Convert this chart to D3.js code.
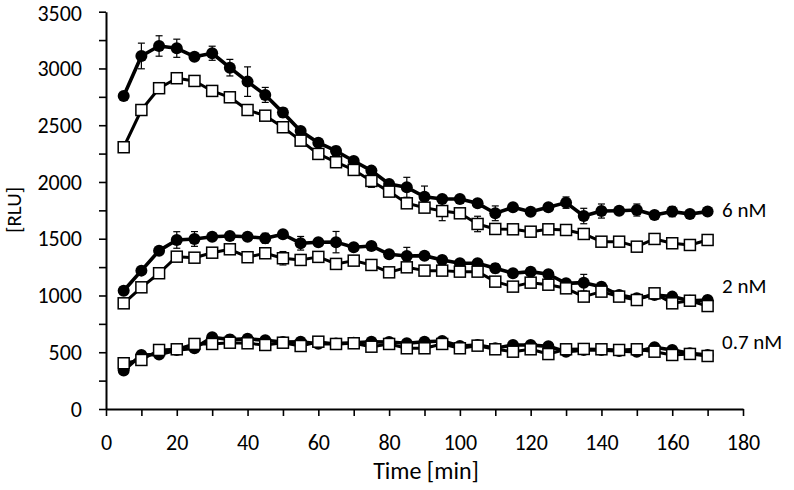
<!DOCTYPE html>
<html>
<head>
<meta charset="utf-8">
<script src="https://cdn.jsdelivr.net/npm/d3@7"></script>
<style>
  html, body { margin: 0; padding: 0; background: #fff; }
  text { font-family: Carlito, Lato, "Open Sans", sans-serif; fill: #000; }
</style>
</head>
<body>
<svg id="chart" width="794" height="490"></svg>
<script>
// ---------------- data ----------------
const times = [5,10,15,20,25,30,35,40,45,50,55,60,65,70,75,80,85,90,95,100,105,110,115,120,125,130,135,140,145,150,155,160,165,170];

const nM6_filled = [2758,3110,3198,3178,3104,3134,3007,2884,2767,2611,2449,2346,2273,2185,2100,1982,1953,1870,1850,1850,1812,1724,1777,1738,1777,1818,1700,1744,1747,1753,1709,1739,1718,1739];
const nM6_open   = [2306,2634,2826,2914,2890,2802,2746,2634,2584,2482,2364,2247,2174,2106,2009,1915,1812,1774,1744,1724,1630,1586,1583,1562,1583,1577,1542,1474,1474,1430,1498,1460,1445,1489];
const nM2_filled = [1042,1219,1395,1489,1498,1518,1524,1518,1504,1539,1460,1469,1470,1425,1436,1363,1348,1351,1313,1284,1284,1240,1196,1210,1187,1107,1113,1078,1004,975,1004,990,954,960];
const nM2_open   = [931,1072,1196,1342,1333,1377,1407,1337,1372,1328,1313,1340,1278,1307,1269,1204,1248,1219,1219,1210,1210,1122,1078,1113,1095,1063,990,1034,990,960,1019,931,954,907];
const nM07_filled = [340,476,480,520,535,632,612,618,605,590,592,575,576,584,593,590,579,593,599,555,564,535,564,564,552,505,520,520,511,505,544,520,491,476];
const nM07_open   = [403,432,520,526,573,573,584,579,564,584,555,593,573,579,549,573,535,535,573,535,558,526,505,526,484,526,529,526,520,526,505,476,485,467];

const nM6_filled_err = [0,113,90,80,0,62,73,130,66,40,0,0,40,0,0,0,88,94,0,0,0,65,0,0,0,50,68,62,0,53,0,45,0,0];
const nM6_open_err   = [0,0,0,0,0,0,0,0,0,0,0,0,40,0,56,0,0,0,85,0,68,0,0,0,0,0,0,0,0,0,0,0,0,0];
const nM2_filled_err = [0,0,0,73,65,0,0,0,44,0,60,0,94,0,0,0,76,0,0,0,0,40,0,0,0,0,73,0,0,0,0,0,0,0];
const nM2_open_err   = [0,0,0,40,0,0,0,0,0,59,0,0,0,0,0,0,0,0,0,0,0,0,0,0,0,0,0,0,0,0,0,0,0,0];
const nM07_filled_err = [0,0,0,0,0,30,40,35,0,0,0,0,0,0,0,0,0,0,0,0,0,0,0,0,0,0,0,0,0,0,0,0,0,0];
const nM07_open_err   = [0,0,0,0,0,0,0,0,0,0,0,0,0,0,0,0,0,0,0,0,0,0,0,0,0,0,0,0,0,0,0,0,0,0];

const seriesLabels = ["6 nM", "2 nM", "0.7 nM"];
const seriesLabelValues = [1760, 1090, 590];
const xTicks = [0,10,20,30,40,50,60,70,80,90,100,110,120,130,140,150,160,170,180];
const yTicks = [0,250,500,750,1000,1250,1500,1750,2000,2250,2500,2750,3000,3250,3500];
const xTitle = "Time [min]";
const yTitle = "[RLU]";

// ---------------- chart ----------------
const svg = d3.select("#chart");
const x = d3.scaleLinear().domain([0, 180]).range([106, 743]);
const y = d3.scaleLinear().domain([0, 3500]).range([409, 11.7]);

const xAxis = d3.axisBottom(x).tickValues(xTicks).tickSize(7).tickPadding(18).tickSizeOuter(0)
  .tickFormat(d => d % 20 === 0 ? d : "");
const yAxis = d3.axisLeft(y).tickValues(yTicks).tickSize(7).tickPadding(17).tickSizeOuter(0)
  .tickFormat(d => d % 500 === 0 ? d : "");

const gx = svg.append("g").attr("transform", "translate(0,409)").call(xAxis);
const gy = svg.append("g").attr("transform", "translate(106,0)").call(yAxis);
[gx, gy].forEach(g => {
  g.select(".domain").attr("stroke", "#000").attr("stroke-width", 2);
  g.selectAll(".tick line").attr("stroke", "#000").attr("stroke-width", 1.6);
  g.selectAll(".tick text").style("font-family", "Carlito, Lato, 'Open Sans', sans-serif")
    .style("font-size", "22px").attr("fill", "#000");
});
// keep the topmost label fully inside the picture
gy.selectAll(".tick text").filter(d => d === 3500).attr("dy", "0.42em");

svg.append("text").attr("x", 426).attr("y", 479).attr("text-anchor", "middle")
  .style("font-size", "24px").text(xTitle);
svg.append("text").attr("transform", "translate(21,210) rotate(-90)").attr("text-anchor", "middle")
  .style("font-size", "21px").text(yTitle);

const series = [
  { vals: nM6_filled, err: nM6_filled_err, filled: true },
  { vals: nM2_filled, err: nM2_filled_err, filled: true },
  { vals: nM07_filled, err: nM07_filled_err, filled: true },
  { vals: nM6_open, err: nM6_open_err, filled: false },
  { vals: nM2_open, err: nM2_open_err, filled: false },
  { vals: nM07_open, err: nM07_open_err, filled: false }
];

const line = d3.line().x((d, i) => x(times[i])).y(d => y(d));

series.forEach(s => {
  const g = svg.append("g");
  g.append("path").datum(s.vals).attr("d", line).attr("fill", "none")
    .attr("stroke", "#000").attr("stroke-width", s.filled ? 3.6 : 3).attr("stroke-linejoin", "round");
  const eb = s.vals.map((v, i) => ({ t: times[i], v, e: s.err[i] })).filter(d => d.e > 0);
  const ebg = g.selectAll(".eb").data(eb).enter().append("g");
  ebg.append("line").attr("x1", d => x(d.t)).attr("x2", d => x(d.t))
    .attr("y1", d => y(d.v + d.e)).attr("y2", d => y(d.v - d.e)).attr("stroke", "#000").attr("stroke-width", 1.2);
  ebg.append("line").attr("x1", d => x(d.t) - 3.5).attr("x2", d => x(d.t) + 3.5)
    .attr("y1", d => y(d.v + d.e)).attr("y2", d => y(d.v + d.e)).attr("stroke", "#000").attr("stroke-width", 1.2);
  ebg.append("line").attr("x1", d => x(d.t) - 3.5).attr("x2", d => x(d.t) + 3.5)
    .attr("y1", d => y(d.v - d.e)).attr("y2", d => y(d.v - d.e)).attr("stroke", "#000").attr("stroke-width", 1.2);
  if (s.filled) {
    g.selectAll("circle").data(s.vals).enter().append("circle")
      .attr("cx", (d, i) => x(times[i])).attr("cy", d => y(d)).attr("r", 6).attr("fill", "#000");
  } else {
    g.selectAll("rect").data(s.vals).enter().append("rect")
      .attr("x", (d, i) => x(times[i]) - 5.5).attr("y", d => y(d) - 5.5)
      .attr("width", 11).attr("height", 11).attr("fill", "#fff")
      .attr("stroke", "#000").attr("stroke-width", 1.5);
  }
});

svg.selectAll(".slabel").data(seriesLabels).enter().append("text")
  .attr("x", 722).attr("y", (d, i) => y(seriesLabelValues[i]))
  .attr("dy", "0.35em").style("font-size", "21px").text(d => d);
</script>
</body>
</html>
